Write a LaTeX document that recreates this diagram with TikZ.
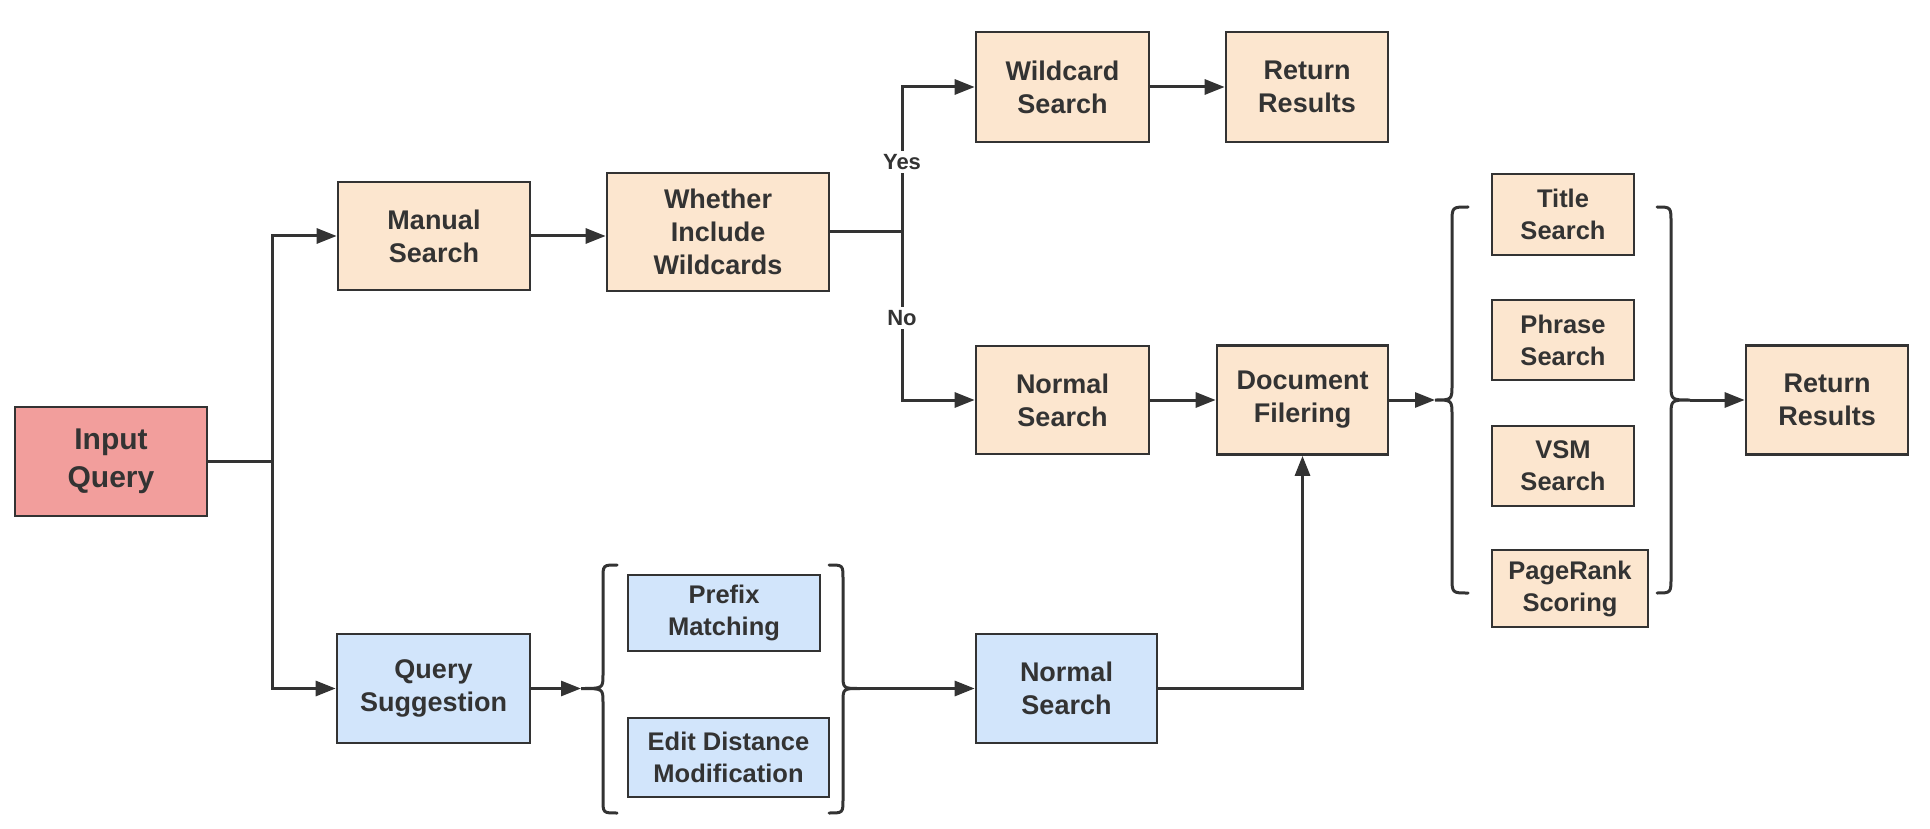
\documentclass[tikz,border=0pt]{standalone}
\usepackage{fontspec}
\setmainfont{Liberation Sans}
\usetikzlibrary{arrows.meta}
\definecolor{ink}{HTML}{333333}
\definecolor{peach}{HTML}{FCE6CF}
\definecolor{skyblue}{HTML}{D2E5FB}
\definecolor{rosered}{HTML}{F29E9C}
\begin{document}
\begin{tikzpicture}[x=1pt,y=-1pt,
  box/.style={draw=ink, line width=2.7pt, inner sep=0pt, align=center, text=ink,
    font=\bfseries\fontsize{27}{33}\selectfont},
  smallbox/.style={box, font=\bfseries\fontsize{25.5}{32}\selectfont},
  orangebox/.style={fill=peach},
  bluebox/.style={fill=skyblue},
  line/.style={draw=ink, line width=3pt},
  arrow/.style={line, -{Triangle[length=20pt,width=15pt]}},
  bracepath/.style={draw=ink, line width=3pt, line cap=round},
  lbl/.style={fill=white, text=ink, inner sep=3pt, font=\bfseries\fontsize{22}{26}\selectfont}
]
\useasboundingbox (0,0) rectangle (1930,829);

% nodes
\node[box, fill=rosered, minimum width=192pt, minimum height=109pt,
      font=\bfseries\fontsize{30}{38}\selectfont] (iq) at (111,461.5) {Input\\Query};
\node[box, orangebox, minimum width=192pt, minimum height=108pt] (ms) at (434,236) {Manual\\Search};
\node[box, orangebox, minimum width=222pt, minimum height=118pt] (wh) at (718,232) {Whether\\Include\\Wildcards};
\node[box, orangebox, minimum width=173pt, minimum height=110pt] (ws) at (1062.5,87) {Wildcard\\Search};
\node[box, orangebox, minimum width=162pt, minimum height=110pt] (rr1) at (1307,87) {Return\\Results};
\node[box, orangebox, minimum width=173pt, minimum height=108pt] (ns1) at (1062.5,400) {Normal\\Search};
\node[box, orangebox, minimum width=171pt, minimum height=109pt] (df) at (1302.5,400) {Document\\Filering};
\node[smallbox, orangebox, minimum width=142pt, minimum height=81pt] (ts) at (1563,214.5) {Title\\Search};
\node[smallbox, orangebox, minimum width=142pt, minimum height=80pt] (ps) at (1563,340) {Phrase\\Search};
\node[smallbox, orangebox, minimum width=142pt, minimum height=80pt] (vs) at (1563,466) {VSM\\Search};
\node[smallbox, orangebox, minimum width=156pt, minimum height=77pt] (pr) at (1570,588.5) {PageRank\\Scoring};
\node[box, orangebox, minimum width=162pt, minimum height=109pt] (rr2) at (1827,400) {Return\\Results};
\node[box, bluebox, minimum width=193pt, minimum height=109pt] (qs) at (433.5,688.5) {Query\\Suggestion};
\node[smallbox, bluebox, minimum width=192pt, minimum height=76pt] (pm) at (724,613) {Prefix\\Matching};
\node[smallbox, bluebox, minimum width=201pt, minimum height=79pt] (ed) at (728.5,757.5) {Edit Distance\\Modification};
\node[box, bluebox, minimum width=181pt, minimum height=109pt] (ns2) at (1066.5,688.5) {Normal\\Search};

% braces
\coordinate (b1tip) at (581,688.5);
\coordinate (b2tip) at (860,688.5);
\coordinate (b3tip) at (1435,400);
\coordinate (b4tip) at (1690,400);
\draw[bracepath] (617,565) .. controls (603,565) .. (603,579) -- (603,674.5)
  .. controls (603,688.5) .. (b1tip) .. controls (603,688.5) .. (603,702.5)
  -- (603,799) .. controls (603,813) .. (617,813);
\draw[bracepath] (829,565) .. controls (843,565) .. (843,579) -- (843,674.5)
  .. controls (843,688.5) .. (b2tip) .. controls (843,688.5) .. (843,702.5)
  -- (843,799) .. controls (843,813) .. (829,813);
\draw[bracepath] (1468,207) .. controls (1452,207) .. (1452,223) -- (1452,384)
  .. controls (1452,400) .. (b3tip) .. controls (1452,400) .. (1452,416)
  -- (1452,577) .. controls (1452,593) .. (1468,593);
\draw[bracepath] (1657,207) .. controls (1671,207) .. (1671,223) -- (1671,384)
  .. controls (1671,400) .. (b4tip) .. controls (1671,400) .. (1671,416)
  -- (1671,577) .. controls (1671,593) .. (1657,593);

% connectors
\coordinate (j1) at (272,461.5);
\draw[line] (iq.east) -- (j1);
\draw[arrow] (j1) |- (ms.west);
\draw[arrow] (j1) |- (qs.west);
\draw[arrow] (ms.east) -- (ms.east -| wh.west);
\coordinate (j2) at (902,232);
\draw[line] (wh.east) -- (j2);
\draw[arrow] (j2) |- (ws.west);
\draw[arrow] (j2) |- (ns1.west);
\draw[arrow] (ws.east) -- (rr1.west);
\draw[arrow] (ns1.east) -- (df.west);
\draw[arrow] (df.east) -- (b3tip);
\draw[arrow] (b4tip) -- (rr2.west);
\draw[arrow] (qs.east) -- (b1tip);
\draw[arrow] (b2tip) -- (ns2.west);
\draw[arrow] (ns2.east) -| (df.south);

% labels
\node[lbl] (yes) at (902,162) {Yes};
\node[lbl] (no) at (902,318) {No};
\end{tikzpicture}
\end{document}
